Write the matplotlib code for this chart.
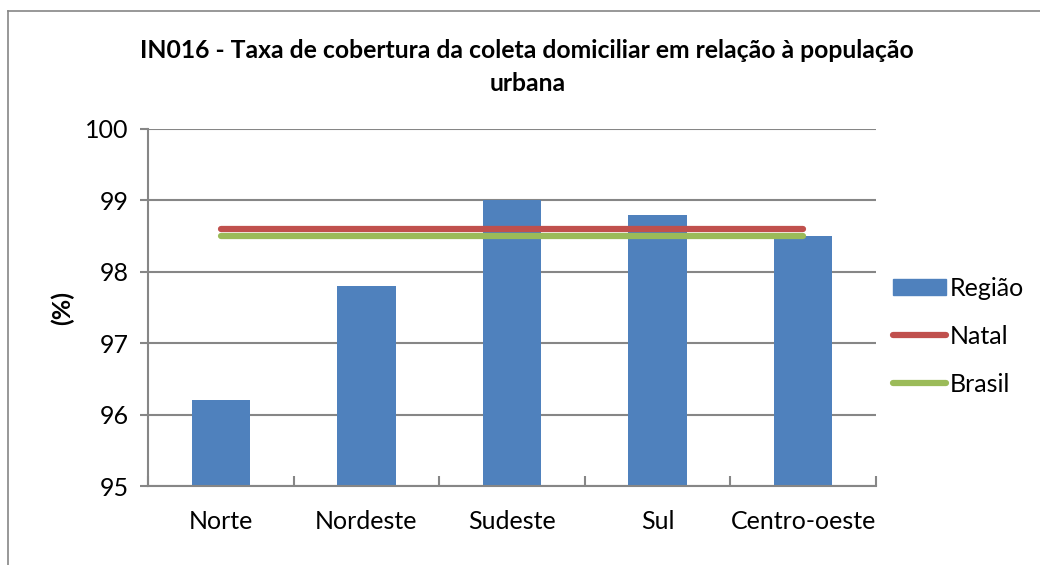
import matplotlib
matplotlib.use('Agg')
import matplotlib.pyplot as plt
from matplotlib.lines import Line2D
import numpy as np

plt.rcParams['font.family'] = ['Lato', 'DejaVu Sans']

regioes = ['Norte', 'Nordeste', 'Sudeste', 'Sul', 'Centro-oeste']
regiao = [96.2, 97.8, 99.0, 98.8, 98.5]
natal = [98.6, 98.6, 98.6, 98.6, 98.6]
brasil = [98.5, 98.5, 98.5, 98.5, 98.5]

fig = plt.figure(figsize=(10.4, 5.65), dpi=100)
ax = fig.add_axes([0.1423, 0.1398, 0.700, 0.6319])

x = np.arange(len(regioes))
grid_col = '#868686'

ax.bar(x, [v - 95 for v in regiao], bottom=95, width=0.4, color='#4F81BD',
       label='Região', zorder=2)
ax.plot(x, natal, color='#C0504D', linewidth=4.5, solid_capstyle='round',
        label='Natal', zorder=3)
ax.plot(x, brasil, color='#9BBB59', linewidth=4.5, solid_capstyle='round',
        label='Brasil', zorder=3)

ax.set_xlim(-0.5, len(regioes) - 0.5)
ax.set_ylim(95, 100)
ax.set_yticks([95, 96, 97, 98, 99, 100])
ax.yaxis.grid(True, color=grid_col, linewidth=1.5, zorder=0)
ax.set_axisbelow(True)

ax.set_xticks(x)
ax.set_xticklabels(regioes, fontsize=18)
ax.tick_params(axis='x', length=0, pad=17)
ax.set_xticks(np.arange(-0.5, len(regioes)), minor=True)
ax.tick_params(axis='x', which='minor', direction='in', length=7,
               color=grid_col, width=1.5)
ax.tick_params(axis='y', labelsize=18, length=6, color=grid_col, width=1.5, pad=8)

for side in ['top', 'right']:
    ax.spines[side].set_visible(False)
for side in ['left', 'bottom']:
    ax.spines[side].set_color(grid_col)
    ax.spines[side].set_linewidth(1.5)

ax.set_ylabel('(%)', fontsize=18, fontweight='bold', labelpad=8)

fig.text(0.507, 0.9115, 'IN016 - Taxa de cobertura da coleta domiciliar em relação à população',
         ha='center', va='center', fontsize=17.8, fontweight='bold')
fig.text(0.507, 0.853, 'urbana', ha='center', va='center',
         fontsize=17.8, fontweight='bold')

handles = [plt.Rectangle((0, 0), 1, 1, color='#4F81BD'),
           Line2D([], [], color='#C0504D', linewidth=4.5, solid_capstyle='round'),
           Line2D([], [], color='#9BBB59', linewidth=4.5, solid_capstyle='round')]
fig.legend(handles, ['Região', 'Natal', 'Brasil'], loc='center left',
           bbox_to_anchor=(0.8587, 0.405), frameon=False, fontsize=18,
           handlelength=2.1, handleheight=0.65, handletextpad=0.15,
           labelspacing=1.0, borderaxespad=0, borderpad=0)

# chart area border (left and top visible)
fig.add_artist(Line2D([8 / 1040, 8 / 1040], [0, 1 - 11 / 565],
                      transform=fig.transFigure, color='#868686', linewidth=1.2))
fig.add_artist(Line2D([8 / 1040, 1], [1 - 11 / 565, 1 - 11 / 565],
                      transform=fig.transFigure, color='#868686', linewidth=1.2))

fig.savefig('out.png', dpi=100)
